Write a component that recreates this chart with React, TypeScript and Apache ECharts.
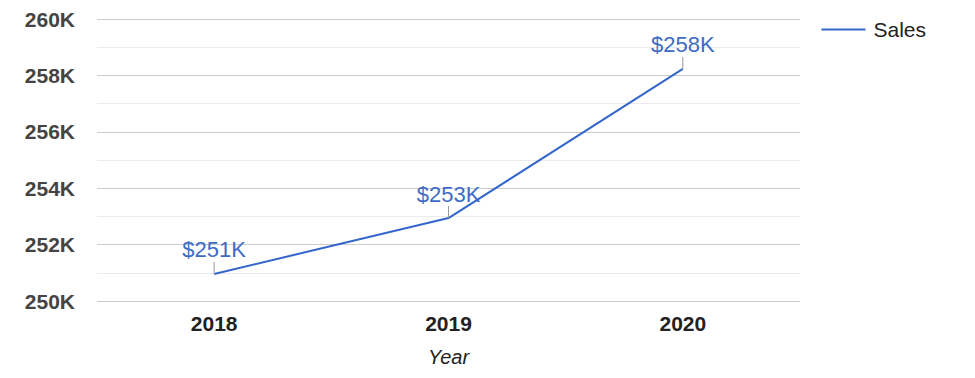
import React, { useEffect, useRef } from "react";
import * as echarts from "echarts";

const categories = ["2018", "2019", "2020"];
const salesValues = [250960, 252940, 258230];
const seriesName = "Sales";
const axisName = "Year";

export default function App() {
  const ref = useRef<HTMLDivElement>(null);
  useEffect(() => {
    if (!ref.current) return;
    const chart = echarts.init(ref.current, undefined, { renderer: "svg" });
    chart.setOption({
      animation: false,
      textStyle: { fontFamily: "Arial, 'Liberation Sans', sans-serif" },
      grid: { left: 97, right: 175, top: 19, bottom: 77, containLabel: false },
      legend: {
        show: true,
        right: 44,
        top: 14,
        orient: "vertical",
        icon: "rect",
        itemWidth: 44,
        itemHeight: 2,
        textStyle: { fontSize: 21, color: "#222", padding: [0, 0, 0, 3] },
        data: [seriesName],
      },
      xAxis: {
        type: "category",
        data: categories,
        boundaryGap: true,
        name: axisName,
        nameLocation: "middle",
        nameGap: 46,
        nameTextStyle: { fontSize: 20, fontStyle: "italic", color: "#222" },
        axisLine: { show: false },
        axisTick: { show: false },
        axisLabel: { fontSize: 21, fontWeight: "bold", color: "#222", margin: 12 },
        splitLine: { show: false },
      },
      yAxis: {
        type: "value",
        min: 250000,
        max: 260000,
        interval: 2000,
        axisLine: { show: false },
        axisTick: { show: false },
        axisLabel: {
          fontSize: 21,
          fontWeight: "bold",
          color: "#444",
          margin: 22,
          formatter: (v: number) => Math.round(v / 1000) + "K",
        },
        splitLine: { show: true, lineStyle: { color: "#cccccc", width: 1 } },
        minorTick: { show: false, splitNumber: 2 },
        minorSplitLine: { show: true, lineStyle: { color: "#ebebeb", width: 1 } },
      },
      series: [
        {
          name: seriesName,
          type: "line",
          data: salesValues,
          symbol: "circle",
          symbolSize: 0.01,
          showSymbol: true,
          itemStyle: { color: "#3366cc" },
          lineStyle: { color: "#3366cc", width: 2 },
          label: {
            show: true,
            position: "top",
            distance: 0,
            align: "center",
            formatter: (p: any) => "{v|$" + Math.round(p.value / 1000) + "K}\n{l|}",
            rich: {
              v: { fontSize: 22, color: "#3d6bc7", lineHeight: 24, align: "center" },
              l: { width: 1, height: 12, lineHeight: 12, backgroundColor: "#999999", align: "center" },
            },
          },
          emphasis: { disabled: true },
        },
      ],
    });
    return () => chart.dispose();
  }, []);
  return (
    <div
      ref={ref}
      style={{ position: "absolute", left: 0, top: 0, width: 975, height: 378 }}
    />
  );
}
